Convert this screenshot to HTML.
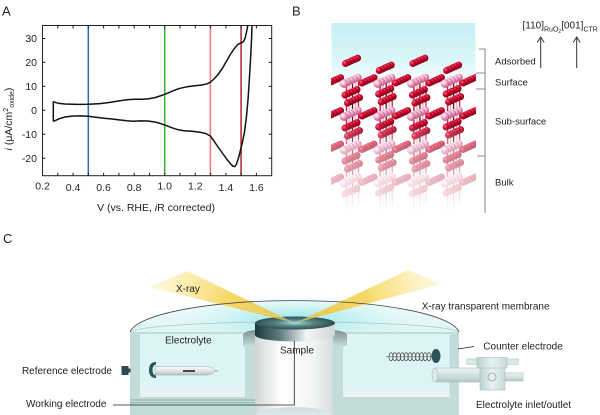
<!DOCTYPE html>
<html><head><meta charset="utf-8">
<style>
html,body{margin:0;padding:0;background:#fff;}
svg{display:block;}
text{font-family:"Liberation Sans",Arial,sans-serif;fill:#222;}
</style></head><body>
<svg width="600" height="415" viewBox="0 0 600 415" xmlns="http://www.w3.org/2000/svg">
<defs>
 <radialGradient id="rd" cx="0.35" cy="0.35" r="0.7">
  <stop offset="0" stop-color="#ff6c84"/><stop offset="0.45" stop-color="#d2062e"/><stop offset="1" stop-color="#7a0018"/>
 </radialGradient>
 <radialGradient id="pk" cx="0.35" cy="0.35" r="0.7">
  <stop offset="0" stop-color="#ffffff"/><stop offset="0.45" stop-color="#f2aac8"/><stop offset="1" stop-color="#b85080"/>
 </radialGradient>
 <linearGradient id="cyanB" x1="0" y1="0" x2="0" y2="1">
  <stop offset="0" stop-color="#c6eff4"/><stop offset="0.6" stop-color="#daf6f8"/><stop offset="1" stop-color="#ffffff"/>
 </linearGradient>
 <linearGradient id="fade" x1="0" y1="0" x2="0" y2="1">
  <stop offset="0" stop-color="#fff" stop-opacity="0"/><stop offset="0.22" stop-color="#fff" stop-opacity="0.35"/>
  <stop offset="0.6" stop-color="#fff" stop-opacity="0.7"/><stop offset="0.92" stop-color="#fff" stop-opacity="1"/>
 </linearGradient>
 <clipPath id="cclip"><rect x="331" y="40" width="145" height="175"/></clipPath>
 <g id="och">
  <circle cx="12" cy="-5.4" r="3.5" fill="url(#rd)"/>
  <circle cx="9" cy="-4" r="3.5" fill="url(#rd)"/>
  <circle cx="6" cy="-2.7" r="3.5" fill="url(#rd)"/>
  <circle cx="3" cy="-1.3" r="3.5" fill="url(#rd)"/>
  <circle cx="0" cy="0" r="3.5" fill="url(#rd)"/>
 </g>
 <g id="ru">
  <circle cx="13" cy="-5.6" r="3.7" fill="url(#pk)"/>
  <circle cx="9.5" cy="-4" r="3.8" fill="url(#pk)"/>
  <circle cx="6" cy="-2.5" r="3.9" fill="url(#pk)"/>
  <circle cx="2.5" cy="-1" r="4" fill="url(#pk)"/>
  <circle cx="-1" cy="0.6" r="4.3" fill="url(#pk)"/>
 </g>
 <g id="st">
  <line x1="-5" y1="0" x2="-5" y2="27" stroke="#c8284a" stroke-width="1.5"/>
  <line x1="-2" y1="-1" x2="-2" y2="26" stroke="#f6b4c8" stroke-width="1.5"/>
  <line x1="1" y1="-2" x2="1" y2="25" stroke="#5a1020" stroke-width="1.3"/>
  <line x1="4" y1="-3" x2="4" y2="24" stroke="#f6b4c8" stroke-width="1.5"/>
  <line x1="7" y1="-4" x2="7" y2="23" stroke="#c8284a" stroke-width="1.3"/>
 </g>
 <radialGradient id="glow" cx="0.5" cy="0.5" r="0.5">
  <stop offset="0" stop-color="#8fe4e9" stop-opacity="0.95"/><stop offset="0.5" stop-color="#bff0f2" stop-opacity="0.65"/><stop offset="1" stop-color="#e0f8f9" stop-opacity="0"/>
 </radialGradient>
 <linearGradient id="pillar" x1="0" y1="0" x2="1" y2="0">
  <stop offset="0" stop-color="#d0d7d7"/><stop offset="0.35" stop-color="#ffffff"/><stop offset="0.75" stop-color="#f3f5f5"/><stop offset="1" stop-color="#d7dcdc"/>
 </linearGradient>
 <linearGradient id="discside" x1="0" y1="0" x2="1" y2="0">
  <stop offset="0" stop-color="#1d3a3f"/><stop offset="0.3" stop-color="#5b787c"/><stop offset="0.65" stop-color="#f4f6f6"/><stop offset="1" stop-color="#cfd5d5"/>
 </linearGradient>
 <radialGradient id="disctop" cx="0.5" cy="0.5" r="0.5">
  <stop offset="0" stop-color="#a6dadc"/><stop offset="0.5" stop-color="#55807f"/><stop offset="1" stop-color="#2f5055"/>
 </radialGradient>
 <linearGradient id="walltopL" x1="0" y1="0" x2="0" y2="1">
  <stop offset="0" stop-color="#7f9191"/><stop offset="1" stop-color="#c3dbd9"/>
 </linearGradient>
 <linearGradient id="floor" x1="0" y1="0" x2="0" y2="1">
  <stop offset="0" stop-color="#dcf4f5"/><stop offset="1" stop-color="#eef2f2"/>
 </linearGradient>
 <linearGradient id="dome" x1="0" y1="0" x2="0" y2="1">
  <stop offset="0" stop-color="#f4fcfc"/><stop offset="1" stop-color="#dcf5f6"/>
 </linearGradient>
 <linearGradient id="bl" gradientUnits="userSpaceOnUse" x1="160" y1="280" x2="295" y2="323">
  <stop offset="0" stop-color="#fdf4c8" stop-opacity="0.75"/><stop offset="0.5" stop-color="#f6d456" stop-opacity="0.9"/>
  <stop offset="0.85" stop-color="#f0c43a" stop-opacity="0.8"/><stop offset="1" stop-color="#e6eaa8" stop-opacity="0.5"/>
 </linearGradient>
 <linearGradient id="br" gradientUnits="userSpaceOnUse" x1="295" y1="323" x2="425" y2="277">
  <stop offset="0" stop-color="#e0ecb0" stop-opacity="0.5"/><stop offset="0.15" stop-color="#f0c43a" stop-opacity="0.85"/>
  <stop offset="0.55" stop-color="#f6d456" stop-opacity="0.9"/><stop offset="1" stop-color="#fdf2c0" stop-opacity="0.7"/>
 </linearGradient>
 <linearGradient id="tube" x1="0" y1="0" x2="0" y2="1">
  <stop offset="0" stop-color="#fbfbfb"/><stop offset="0.5" stop-color="#e3e6e6"/><stop offset="1" stop-color="#b9bfbf"/>
 </linearGradient>
 <linearGradient id="pipe" x1="0" y1="0" x2="0" y2="1">
  <stop offset="0" stop-color="#eef5f5"/><stop offset="0.5" stop-color="#d2e3e2"/><stop offset="1" stop-color="#b1c8c6"/>
 </linearGradient>
 <linearGradient id="vb" x1="0" y1="0" x2="1" y2="0">
  <stop offset="0" stop-color="#bcd3d1"/><stop offset="0.5" stop-color="#e8f2f1"/><stop offset="1" stop-color="#c6dbd9"/>
 </linearGradient>
 <linearGradient id="pb" x1="0" y1="0" x2="0" y2="1">
  <stop offset="0" stop-color="#cfe0df"/><stop offset="1" stop-color="#e8f0f0"/>
 </linearGradient>
</defs>

<!-- ================= PANEL A ================= -->
<text x="2" y="15.5" font-size="13">A</text>
<g stroke-width="1.5" fill="none">
 <line x1="88.3" y1="25.5" x2="88.3" y2="175.7" stroke="#2a6db5"/>
 <line x1="164.7" y1="25.5" x2="164.7" y2="175.7" stroke="#34b034"/>
 <line x1="210.4" y1="25.5" x2="210.4" y2="175.7" stroke="#f07a7a"/>
 <line x1="241.1" y1="25.5" x2="241.1" y2="175.7" stroke="#b3202a"/>
</g>
<path fill="none" stroke="#111" stroke-width="1.5" stroke-linejoin="round" d="M53.3,121.5 L53.3,101.8 L58,103.2 L65,104 L76.7,104.4 L88.3,104.3 L100,103.6 L110,102.4 L120,100.8 L128,99.6 L135,99.2 L142,99.3 L148,98.9 L155,97.6 L160,96 L164.7,94.3 L170,92.2 L175,90 L180,88.3 L187,86.8 L195,85.8 L202,85 L207,83.8 L210.3,82.3 L214,79 L218,74.5 L222,69 L226,62 L230,55 L234,49 L237.5,44.8 L240,43.2 L242,42.6 L243.5,41.5 L245,38.5 L246.3,33 L247.3,28 L247.8,25.5"/>
<path fill="none" stroke="#111" stroke-width="1.5" stroke-linejoin="round" d="M252,25.5 L251.5,40 L250.5,60 L249.3,80 L248,100 L246.3,118 L244.5,132 L242.5,142 L240.5,150 L238.5,158 L236.5,164 L234.8,166.6 L233,166.3 L230.5,163.8 L227,159.5 L222,152.5 L217,145.5 L213,139.5 L210.3,136 L206,133.6 L200,132.2 L192,131.3 L184,130.7 L178,129.7 L172,127.8 L167,125.8 L164.7,125 L160,123.4 L155,122 L148,121 L140,120.9 L133,121.2 L127,120.8 L120,120 L112,119 L104,118.2 L96,117.2 L88.3,116.3 L80,115.9 L72,116.1 L65,117 L59,118.8 L53.3,121.5"/>
<rect x="42.5" y="25.5" width="229.2" height="150.2" fill="none" stroke="#222" stroke-width="1"/>
<path stroke="#222" stroke-width="1" fill="none" d="
M57.8,25.5v3M73.1,25.5v3M88.3,25.5v3M103.6,25.5v3M118.9,25.5v3M134.2,25.5v3M149.5,25.5v3M164.7,25.5v3M180,25.5v3M195.3,25.5v3M210.6,25.5v3M225.9,25.5v3M241.1,25.5v3M256.4,25.5v3
M57.8,175.7v-3M73.1,175.7v-3M88.3,175.7v-3M103.6,175.7v-3M118.9,175.7v-3M134.2,175.7v-3M149.5,175.7v-3M164.7,175.7v-3M180,175.7v-3M195.3,175.7v-3M210.6,175.7v-3M225.9,175.7v-3M241.1,175.7v-3M256.4,175.7v-3
M42.5,38.5h3M42.5,62.4h3M42.5,86.4h3M42.5,110.3h3M42.5,134.3h3M42.5,158.2h3
M271.7,38.5h-3M271.7,62.4h-3M271.7,86.4h-3M271.7,110.3h-3M271.7,134.3h-3M271.7,158.2h-3"/>
<g font-size="10.5" text-anchor="end">
 <text x="37" y="42">30</text><text x="37" y="66">20</text><text x="37" y="90">10</text>
 <text x="37" y="114">0</text><text x="37" y="138">-10</text><text x="37" y="162">-20</text>
</g>
<g font-size="10.5" text-anchor="middle">
 <text x="42.5" y="189.5">0.2</text><text x="73.1" y="191">0.4</text><text x="103.6" y="191">0.6</text>
 <text x="134.2" y="191">0.8</text><text x="164.7" y="189.5">1.0</text><text x="195.3" y="189.5">1.2</text>
 <text x="225.9" y="191">1.4</text><text x="256.4" y="191">1.6</text>
</g>
<text x="156" y="211" font-size="10.5" text-anchor="middle">V (vs. RHE, <tspan font-style="italic">i</tspan>R corrected)</text>
<text transform="translate(12,119) rotate(-90)" font-size="10.5" text-anchor="middle"><tspan font-style="italic">i</tspan> (μA/cm<tspan font-size="7" dy="-4">2</tspan><tspan font-size="7" dy="6">oxide</tspan><tspan dy="-2">)</tspan></text>

<!-- ================= PANEL B ================= -->
<text x="292" y="15.5" font-size="13">B</text>
<rect x="331.5" y="23" width="144" height="62" fill="url(#cyanB)"/>
<g clip-path="url(#cclip)">
 <g>
  <use href="#st" x="351.5" y="84"/><use href="#st" x="385.2" y="84"/><use href="#st" x="418.9" y="84"/><use href="#st" x="452.6" y="84"/>
  <use href="#st" x="351.5" y="117"/><use href="#st" x="385.2" y="117"/><use href="#st" x="418.9" y="117"/><use href="#st" x="452.6" y="117"/>
  <use href="#st" x="351.5" y="150"/><use href="#st" x="385.2" y="150"/><use href="#st" x="418.9" y="150"/><use href="#st" x="452.6" y="150"/>
  <use href="#st" x="351.5" y="183"/><use href="#st" x="385.2" y="183"/><use href="#st" x="418.9" y="183"/><use href="#st" x="452.6" y="183"/>
 </g>
 <g>
  <use href="#och" x="345" y="95"/><use href="#och" x="347.5" y="103"/>
  <use href="#och" x="378.7" y="94"/><use href="#och" x="381.2" y="102"/>
  <use href="#och" x="412.4" y="95"/><use href="#och" x="414.9" y="103"/>
  <use href="#och" x="446.1" y="94"/><use href="#och" x="448.6" y="102"/>
  <use href="#och" x="345" y="128"/><use href="#och" x="347.5" y="136"/>
  <use href="#och" x="378.7" y="127"/><use href="#och" x="381.2" y="135"/>
  <use href="#och" x="412.4" y="128"/><use href="#och" x="414.9" y="136"/>
  <use href="#och" x="446.1" y="127"/><use href="#och" x="448.6" y="135"/>
  <use href="#och" x="345" y="161"/><use href="#och" x="347.5" y="169"/>
  <use href="#och" x="378.7" y="160"/><use href="#och" x="381.2" y="168"/>
  <use href="#och" x="412.4" y="161"/><use href="#och" x="414.9" y="169"/>
  <use href="#och" x="446.1" y="160"/><use href="#och" x="448.6" y="168"/>
  <use href="#och" x="345" y="194"/><use href="#och" x="378.7" y="193"/>
  <use href="#och" x="412.4" y="194"/><use href="#och" x="446.1" y="193"/>
 </g>
 <use href="#och" x="345.5" y="63.5"/><use href="#och" x="379.2" y="70.5"/>
 <use href="#och" x="412.9" y="63.5"/><use href="#och" x="446.6" y="70.5"/>
 <g>
  <use href="#och" x="328.5" y="83"/><use href="#ru" x="345" y="83"/><use href="#och" x="362" y="83"/><use href="#ru" x="378.7" y="83"/>
  <use href="#och" x="395.7" y="83"/><use href="#ru" x="412.4" y="83"/><use href="#och" x="429.4" y="83"/><use href="#ru" x="446.1" y="83"/><use href="#och" x="463.1" y="83"/>
  <use href="#och" x="328.5" y="116"/><use href="#ru" x="345" y="116"/><use href="#och" x="362" y="116"/><use href="#ru" x="378.7" y="116"/>
  <use href="#och" x="395.7" y="116"/><use href="#ru" x="412.4" y="116"/><use href="#och" x="429.4" y="116"/><use href="#ru" x="446.1" y="116"/><use href="#och" x="463.1" y="116"/>
  <use href="#och" x="328.5" y="149.5"/><use href="#ru" x="345" y="149.5"/><use href="#och" x="362" y="149.5"/><use href="#ru" x="378.7" y="149.5"/>
  <use href="#och" x="395.7" y="149.5"/><use href="#ru" x="412.4" y="149.5"/><use href="#och" x="429.4" y="149.5"/><use href="#ru" x="446.1" y="149.5"/><use href="#och" x="463.1" y="149.5"/>
  <use href="#och" x="328.5" y="182.5"/><use href="#ru" x="345" y="182.5"/><use href="#och" x="362" y="182.5"/><use href="#ru" x="378.7" y="182.5"/>
  <use href="#och" x="395.7" y="182.5"/><use href="#ru" x="412.4" y="182.5"/><use href="#och" x="429.4" y="182.5"/><use href="#ru" x="446.1" y="182.5"/><use href="#och" x="463.1" y="182.5"/>
 </g>
 <rect x="328" y="124" width="152" height="93" fill="url(#fade)"/>
</g>
<g stroke="#666" stroke-width="0.8" fill="none">
 <path d="M485,49 V213 M479,49 H485 M476,73 H485 M476,89 H485 M477,156 H485"/>
</g>
<g font-size="9.5">
 <text x="495" y="64.5">Adsorbed</text>
 <text x="495" y="85.5">Surface</text>
 <text x="495" y="124.5">Sub-surface</text>
 <text x="495" y="185.5">Bulk</text>
</g>
<text x="522.5" y="28.5" font-size="10">[110]<tspan font-size="7" dy="3">RuO</tspan><tspan font-size="5" dy="1.5">2</tspan><tspan dy="-4.5">[001]</tspan><tspan font-size="7" dy="3">CTR</tspan></text>
<g stroke="#333" stroke-width="1" fill="none">
 <path d="M540.7,68 V37.5 M537.2,42.5 L540.7,37 L544.2,42.5"/>
 <path d="M576.7,68 V37.5 M573.2,42.5 L576.7,37 L580.2,42.5"/>
</g>

<!-- ================= PANEL C ================= -->
<text x="3" y="243" font-size="13">C</text>
<path d="M130,332 A165,34 0 0 1 459,332 Z" fill="url(#dome)"/>
<ellipse cx="296" cy="320" rx="135" ry="26" fill="url(#glow)"/>
<path d="M131,332 A164,11 0 0 1 458,332" fill="none" stroke="#b4c2c2" stroke-width="0.8"/>
<rect x="130" y="332" width="125" height="83" fill="#c3dbd9"/>
<rect x="333" y="332" width="126" height="83" fill="#c3dbd9"/>
<rect x="140" y="334" width="105" height="63" fill="#dcf4f5"/>
<rect x="343" y="334" width="106.5" height="63" fill="#dcf4f5"/>
<rect x="140" y="384" width="105" height="13" fill="url(#floor)"/>
<rect x="343" y="384" width="106.5" height="13" fill="url(#floor)"/>
<path d="M243,346 L243,335 Q244,331 255,330 L255,346 Z" fill="url(#walltopL)"/>
<path d="M333,330 Q346,331 347,335 L347,346 L333,346 Z" fill="url(#walltopL)"/>
<line x1="130" y1="400" x2="255" y2="400" stroke="#7fb3a8" stroke-width="1"/>
<line x1="130" y1="402.7" x2="255" y2="402.7" stroke="#7fb3a8" stroke-width="1"/>
<rect x="255" y="333" width="78" height="82" fill="url(#pillar)"/>
<ellipse cx="294" cy="415" rx="38" ry="8" fill="url(#pb)"/>
<path d="M255,323 L255,335 A40,6.5 0 0 0 335,335 L335,323 Z" fill="url(#discside)"/>
<ellipse cx="295" cy="323" rx="40" ry="6.5" fill="url(#disctop)"/>
<polygon points="150,287 187,271 295,323" fill="url(#bl)"/>
<polygon points="295,323 408,270 441,284" fill="url(#br)"/>
<path d="M130,332 A165,34 0 0 1 459,332" fill="none" stroke="#444" stroke-width="0.8"/>
<polyline points="113,405 294.3,405 294.3,341" fill="none" stroke="#222" stroke-width="0.8"/>
<rect x="121.5" y="366" width="7" height="9" fill="#2e4a4c"/>
<rect x="128.5" y="368.5" width="2" height="4" fill="#2e4a4c"/>
<path d="M155,366.5 L207,366.5 Q213,367 215,370.8 Q213,374.6 207,375 L155,375 Z" fill="url(#tube)" stroke="#9aa6a6" stroke-width="0.5"/>
<line x1="215" y1="370.8" x2="218" y2="370.8" stroke="#999" stroke-width="1"/>
<path d="M156,362 Q149,362 149,370 Q149,378 156,378 L156,375.5 Q152.5,375 152.5,370 Q152.5,365 156,364.5 Z" fill="#2e5357"/>
<line x1="183" y1="371" x2="195" y2="371" stroke="#111" stroke-width="1.5"/>
<line x1="386" y1="356.7" x2="432" y2="356.7" stroke="#888" stroke-width="0.8"/>
<g fill="none" stroke="#555" stroke-width="0.8">
 <ellipse cx="391" cy="356.7" rx="2" ry="4"/><ellipse cx="394.8" cy="356.7" rx="2" ry="4"/><ellipse cx="398.6" cy="356.7" rx="2" ry="4"/>
 <ellipse cx="402.4" cy="356.7" rx="2" ry="4"/><ellipse cx="406.2" cy="356.7" rx="2" ry="4"/><ellipse cx="410" cy="356.7" rx="2" ry="4"/>
 <ellipse cx="413.8" cy="356.7" rx="2" ry="4"/><ellipse cx="417.6" cy="356.7" rx="2" ry="4"/><ellipse cx="421.4" cy="356.7" rx="2" ry="4"/>
 <ellipse cx="425.2" cy="356.7" rx="2" ry="4"/><ellipse cx="429" cy="356.7" rx="2" ry="4"/>
</g>
<ellipse cx="436" cy="356" rx="4.5" ry="7" fill="#2e5357"/>
<line x1="458" y1="349" x2="474" y2="346.5" stroke="#222" stroke-width="0.8"/>
<rect x="435" y="368" width="47" height="14" fill="url(#pipe)" stroke="#a7bfbd" stroke-width="0.6"/>
<ellipse cx="435" cy="375" rx="3" ry="7" fill="#dbe9e8" stroke="#a7bfbd" stroke-width="0.6"/>
<rect x="503" y="373" width="20" height="8" fill="url(#pipe)" stroke="#a7bfbd" stroke-width="0.6"/>
<rect x="480" y="360" width="25" height="30" fill="url(#vb)" stroke="#a7bfbd" stroke-width="0.6"/>
<rect x="466.7" y="359" width="51.6" height="5.5" fill="#d8e8e6" stroke="#b0c6c4" stroke-width="0.6"/>
<rect x="477" y="357.5" width="30" height="10.5" fill="url(#vb)" stroke="#a7bfbd" stroke-width="0.6"/>
<circle cx="492" cy="377" r="4" fill="none" stroke="#8fa9a7" stroke-width="0.8"/>
<g font-size="10">
 <text x="176" y="292">X-ray</text>
 <text x="421.7" y="309.5">X-ray transparent membrane</text>
 <text x="165" y="343.5">Electrolyte</text>
 <text x="280" y="353.5">Sample</text>
 <text x="112" y="374" text-anchor="end">Reference electrode</text>
 <text x="26" y="407">Working electrode</text>
 <text x="483.3" y="349.5">Counter electrode</text>
 <text x="476" y="408">Electrolyte inlet/outlet</text>
</g>
</svg>
</body></html>
